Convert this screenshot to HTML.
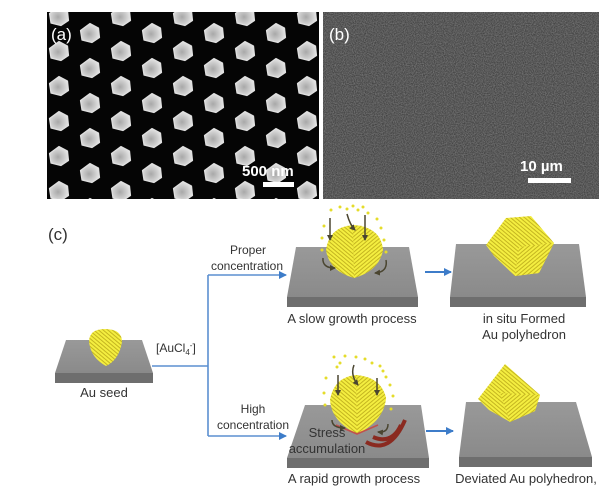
<!DOCTYPE html>
<html><head><meta charset="utf-8"><style>
html,body{margin:0;padding:0;background:#fff;width:600px;height:491px;overflow:hidden}
svg{display:block}
text{font-family:"Liberation Sans",Arial,sans-serif;fill:#333}
</style></head><body>
<svg width="600" height="491" viewBox="0 0 600 491" xmlns="http://www.w3.org/2000/svg">
<defs>
<radialGradient id="pg" cx="45%" cy="55%" r="60%">
<stop offset="0" stop-color="#a8a8a8"/><stop offset="0.6" stop-color="#cfcfcf"/><stop offset="1" stop-color="#ececec"/>
</radialGradient>
<g id="hx"><polygon points="0,-9.5 8.5,-5 9.5,4.5 2,9.5 -8,7 -9.5,-2.5" fill="url(#pg)" stroke="#e0e0e0" stroke-width="1.2" stroke-linejoin="round"/></g>
<pattern id="lat" x="47" y="10" width="62" height="35" patternUnits="userSpaceOnUse">
<use href="#hx" x="12" y="6"/><use href="#hx" x="12" y="41"/>
<use href="#hx" x="43" y="23"/><use href="#hx" x="43" y="-12"/>
</pattern>
<filter id="noise" x="0" y="0" width="1" height="1"><feTurbulence type="fractalNoise" baseFrequency="0.9" numOctaves="2" seed="3"/><feColorMatrix type="matrix" values="0 0 0 0 0.25  0 0 0 0 0.25  0 0 0 0 0.25  0 0 0 1.4 -0.35"/></filter>
<clipPath id="cb"><rect x="323" y="12" width="276" height="187"/></clipPath>
<clipPath id="ca"><rect x="47" y="12" width="272" height="187"/></clipPath>
<pattern id="st" width="3" height="3" patternUnits="userSpaceOnUse" patternTransform="rotate(40)">
<rect width="3" height="3" fill="#f4ee40"/><rect width="3" height="1" fill="#c4b520"/>
</pattern>
<pattern id="st2" width="3" height="3" patternUnits="userSpaceOnUse" patternTransform="rotate(-40)">
<rect width="3" height="3" fill="#f4ee40"/><rect width="3" height="1" fill="#c4b520"/>
</pattern>
<linearGradient id="plat" x1="0" y1="0" x2="0" y2="1"><stop offset="0" stop-color="#999"/><stop offset="1" stop-color="#8a8a8a"/></linearGradient>
<marker id="ah" markerWidth="8" markerHeight="8" refX="7" refY="4" orient="auto" markerUnits="userSpaceOnUse">
<path d="M0,0 L8,4 L0,8 Z" fill="#3d7cc9"/></marker>
<marker id="dk" markerWidth="6" markerHeight="6" refX="5" refY="3" orient="auto" markerUnits="userSpaceOnUse">
<path d="M0,0 L6,3 L0,6 Z" fill="#4a4530"/></marker>
</defs>

<!-- panel a -->
<rect x="47" y="12" width="272" height="187" fill="#050505"/>
<rect x="47" y="12" width="272" height="187" fill="url(#lat)" clip-path="url(#ca)"/>
<text x="51" y="40" font-size="17" style="fill:#fff">(a)</text>
<text x="242" y="176" font-size="15" font-weight="bold" style="fill:#fff">500 nm</text>
<rect x="263" y="182" width="31" height="5" fill="#fff"/>

<!-- panel b -->
<g clip-path="url(#cb)">
<rect x="323" y="12" width="276" height="187" fill="#444"/>
<rect x="323" y="12" width="276" height="187" filter="url(#noise)" opacity="0.9"/>
</g>
<text x="329" y="40" font-size="17" style="fill:#fff">(b)</text>
<text x="520" y="171" font-size="15" font-weight="bold" style="fill:#fff">10 µm</text>
<rect x="528" y="178" width="43" height="5" fill="#fff"/>

<!-- (c) -->
<text x="48" y="240" font-size="17">(c)</text>

<!-- seed -->
<polygon points="66,340 142,340 153,373 55,373" fill="url(#plat)"/>
<rect x="55" y="373" width="98" height="10" fill="#6e6e6e"/>
<path d="M89,342 Q89,329 105,329 Q122,329 122,342 Q119,360 106,366 Q91,358 89,342Z" fill="url(#st)"/>
<text x="104" y="397" font-size="13" text-anchor="middle">Au seed</text>
<text x="156" y="352" font-size="12">[AuCl<tspan font-size="8" dy="3">4</tspan><tspan font-size="8" dy="-7">-</tspan><tspan dy="4">]</tspan></text>

<!-- connectors -->
<path d="M152,366 H208 M208,275 V436" stroke="#5b8fd0" stroke-width="1.6" fill="none"/>
<path d="M208,275 H286" stroke="#5b8fd0" stroke-width="1.6" fill="none" marker-end="url(#ah)"/>
<path d="M208,436 H286" stroke="#5b8fd0" stroke-width="1.6" fill="none" marker-end="url(#ah)"/>
<path d="M425,272 H451" stroke="#3d7cc9" stroke-width="2" marker-end="url(#ah)"/>
<path d="M426,431 H453" stroke="#3d7cc9" stroke-width="2" marker-end="url(#ah)"/>

<text x="248" y="254" font-size="12" text-anchor="middle">Proper</text>
<text x="247" y="270" font-size="12" text-anchor="middle">concentration</text>
<text x="253" y="413" font-size="12" text-anchor="middle">High</text>
<text x="253" y="429" font-size="12" text-anchor="middle">concentration</text>

<!-- top middle -->
<polygon points="296,247 409,247 418,297 287,297" fill="url(#plat)"/>
<rect x="287" y="297" width="131" height="10" fill="#6e6e6e"/>
<path d="M326,250 Q329,227 353,225 Q381,227 383,250 Q379,271 354,278 Q329,271 326,250Z" fill="url(#st)"/>
<path d="M353,225 Q381,227 383,250 Q379,271 354,278Z" fill="url(#st2)"/>
<g fill="#e5dc2a">
<circle cx="331" cy="210" r="1.5"/><circle cx="340" cy="207" r="1.5"/><circle cx="347" cy="209" r="1.5"/><circle cx="353" cy="206" r="1.5"/><circle cx="358" cy="210" r="1.5"/><circle cx="363" cy="207" r="1.5"/><circle cx="368" cy="213" r="1.5"/><circle cx="377" cy="219" r="1.5"/><circle cx="381" cy="228" r="1.5"/><circle cx="324" cy="226" r="1.5"/><circle cx="322" cy="238" r="1.5"/><circle cx="384" cy="240" r="1.5"/><circle cx="322" cy="250" r="1.5"/><circle cx="386" cy="252" r="1.5"/>
</g>
<g stroke="#4a4530" stroke-width="1.5" fill="none" marker-end="url(#dk)">
<path d="M330,218 V240"/><path d="M347,214 Q350,225 355,230"/><path d="M365,215 V240"/>
<path d="M323,258 Q322,268 335,268"/><path d="M386,260 Q388,272 375,273"/>
</g>
<text x="352" y="323" font-size="13" text-anchor="middle">A slow growth process</text>

<!-- top right -->
<polygon points="456,244 579,244 586,297 450,297" fill="url(#plat)"/>
<rect x="450" y="297" width="136" height="10" fill="#6e6e6e"/>
<path d="M506,218 L531,216 L554,243 L539,273 L515,276 L494,256 L486,245Z" fill="url(#st)"/>
<path d="M519,247 L554,243 L539,273 L515,276Z" fill="url(#st2)"/>
<text x="524" y="323" font-size="13" text-anchor="middle">in situ Formed</text>
<text x="524" y="339" font-size="13" text-anchor="middle">Au polyhedron</text>

<!-- bottom middle -->
<polygon points="305,405 421,405 429,458 287,458" fill="url(#plat)"/>
<rect x="287" y="458" width="142" height="10" fill="#6e6e6e"/>
<path d="M330,400 Q334,377 356,375 Q381,377 386,398 Q384,421 357,434 Q331,421 330,400Z" fill="url(#st)"/>
<path d="M356,375 Q381,377 386,398 Q384,421 357,434Z" fill="url(#st2)"/>
<path d="M336,425 L357,434 L378,425" stroke="#c0504d" stroke-width="1.5" fill="none"/>
<g fill="#e5dc2a">
<circle cx="334" cy="357" r="1.5"/><circle cx="340" cy="363" r="1.5"/><circle cx="345" cy="356" r="1.5"/><circle cx="356" cy="357" r="1.5"/><circle cx="365" cy="359" r="1.5"/><circle cx="372" cy="363" r="1.5"/><circle cx="380" cy="366" r="1.5"/><circle cx="386" cy="377" r="1.5"/><circle cx="390" cy="385" r="1.5"/><circle cx="326" cy="378" r="1.5"/><circle cx="324" cy="393" r="1.5"/><circle cx="393" cy="396" r="1.5"/><circle cx="325" cy="405" r="1.5"/><circle cx="391" cy="409" r="1.5"/><circle cx="337" cy="367" r="1.5"/><circle cx="383" cy="371" r="1.5"/>
</g>
<g stroke="#4a4530" stroke-width="1.5" fill="none" marker-end="url(#dk)">
<path d="M338,375 V395"/><path d="M354,365 Q350,375 358,385"/><path d="M377,378 V395"/>
<path d="M332,420 Q332,428 345,428"/><path d="M388,424 Q388,433 378,432"/>
</g>
<g stroke="#8a2a20" stroke-width="4" fill="none">
<path d="M366,442 Q390,455 405,420"/><path d="M373,437 Q392,445 401,425"/>
</g>
<text x="327" y="437" font-size="13" text-anchor="middle">Stress</text>
<text x="327" y="453" font-size="13" text-anchor="middle">accumulation</text>
<text x="354" y="483" font-size="13" text-anchor="middle">A rapid growth process</text>

<!-- bottom right -->
<polygon points="466,402 576,402 592,457 459,457" fill="url(#plat)"/>
<rect x="459" y="457" width="133" height="10" fill="#6e6e6e"/>
<path d="M505,364 L540,395 L535,411 L510,422 L489,410 L478,399Z" fill="url(#st)"/>
<path d="M500,393 L540,395 L535,411 L510,422Z" fill="url(#st2)"/>
<text x="526" y="483" font-size="13" text-anchor="middle">Deviated Au polyhedron,</text>
</svg>
</body></html>
